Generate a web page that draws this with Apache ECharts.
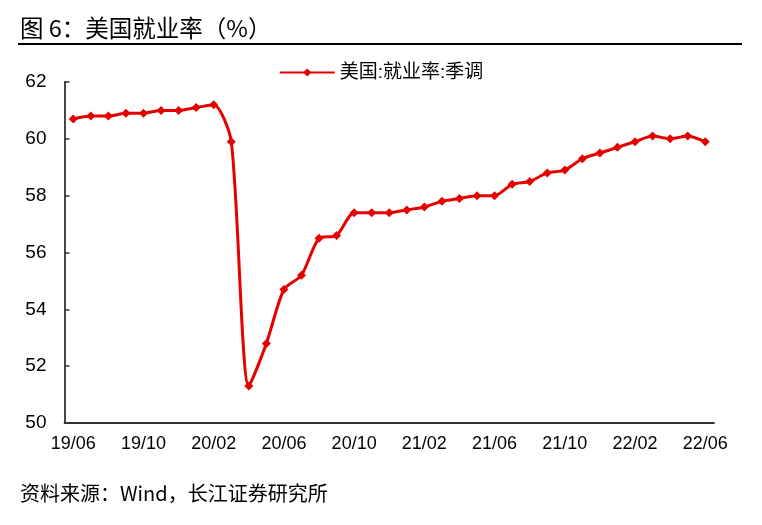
<!DOCTYPE html>
<html>
<head>
<meta charset="utf-8">
<script src="https://cdn.jsdelivr.net/npm/echarts@6/dist/echarts.min.js"></script>
<style>
html,body{margin:0;padding:0;background:#fff;}
#chart{width:762px;height:525px;}
</style>
</head>
<body>
<div id="chart"></div>
<script>
const categories = [
  '19/06','19/07','19/08','19/09','19/10','19/11','19/12',
  '20/01','20/02','20/03','20/04','20/05','20/06','20/07','20/08','20/09','20/10','20/11','20/12',
  '21/01','21/02','21/03','21/04','21/05','21/06','21/07','21/08','21/09','21/10','21/11','21/12',
  '22/01','22/02','22/03','22/04','22/05','22/06'
];
const employmentRate = [
  60.7, 60.8, 60.8, 60.9, 60.9, 61.0, 61.0,
  61.1, 61.2, 59.9, 51.3, 52.8, 54.7, 55.2, 56.5, 56.6, 57.4, 57.4, 57.4,
  57.5, 57.6, 57.8, 57.9, 58.0, 58.0, 58.4, 58.5, 58.8, 58.9, 59.3, 59.5,
  59.7, 59.9, 60.1, 60.0, 60.1, 59.9
];
const seriesName = '美国:就业率:季调';
const titleText = '图 6：美国就业率（%）';
const sourceText = '资料来源：Wind，长江证券研究所';

const FONT = '"Liberation Sans", Arial, "Noto Sans CJK SC", sans-serif';
const CJK_FONT = '"Noto Sans CJK SC", "Liberation Sans", sans-serif';
const chart = echarts.init(document.getElementById('chart'));
chart.setOption({
  animation: false,
  backgroundColor: '#fff',
  textStyle: { fontFamily: FONT },
  grid: { left: 64.5, right: 48, top: 82, bottom: 102, containLabel: false },
  legend: {
    data: [seriesName],
    top: 58,
    left: 'center',
    itemWidth: 55,
    itemHeight: 10,
    itemGap: 6,
    textStyle: { fontSize: 19, color: '#000', fontFamily: FONT }
  },
  graphic: [
    { type: 'text', left: 20, top: 16, style: { text: titleText, fill: '#000', fontSize: 23.5, fontFamily: CJK_FONT } },
    { type: 'line', shape: { x1: 18, y1: 44, x2: 742, y2: 44 }, style: { stroke: '#000', lineWidth: 2 } },
    { type: 'text', left: 20, top: 483, style: { text: sourceText, fill: '#000', fontSize: 20, fontFamily: CJK_FONT } }
  ],
  xAxis: {
    type: 'category',
    data: categories,
    boundaryGap: true,
    axisLine: { lineStyle: { color: '#333', width: 1.8 } },
    axisTick: { inside: true, length: 5, interval: 3, lineStyle: { color: '#333', width: 1.5 } },
    axisLabel: { interval: 3, fontSize: 18, color: '#000', margin: 12, fontFamily: FONT },
    splitLine: { show: false }
  },
  yAxis: {
    type: 'value',
    min: 50,
    max: 62,
    interval: 2,
    axisLine: { show: true, lineStyle: { color: '#333', width: 1.8 } },
    axisTick: { show: true, inside: true, length: 5, lineStyle: { color: '#333', width: 1.5 } },
    axisLabel: { fontSize: 19, color: '#000', margin: 18, fontFamily: FONT },
    splitLine: { show: false }
  },
  series: [{
    name: seriesName,
    type: 'line',
    data: employmentRate,
    smooth: 0.25,
    symbol: 'diamond',
    symbolSize: 9,
    lineStyle: { color: '#E60000', width: 3 },
    itemStyle: { color: '#E60000' }
  }]
});
</script>
</body>
</html>
